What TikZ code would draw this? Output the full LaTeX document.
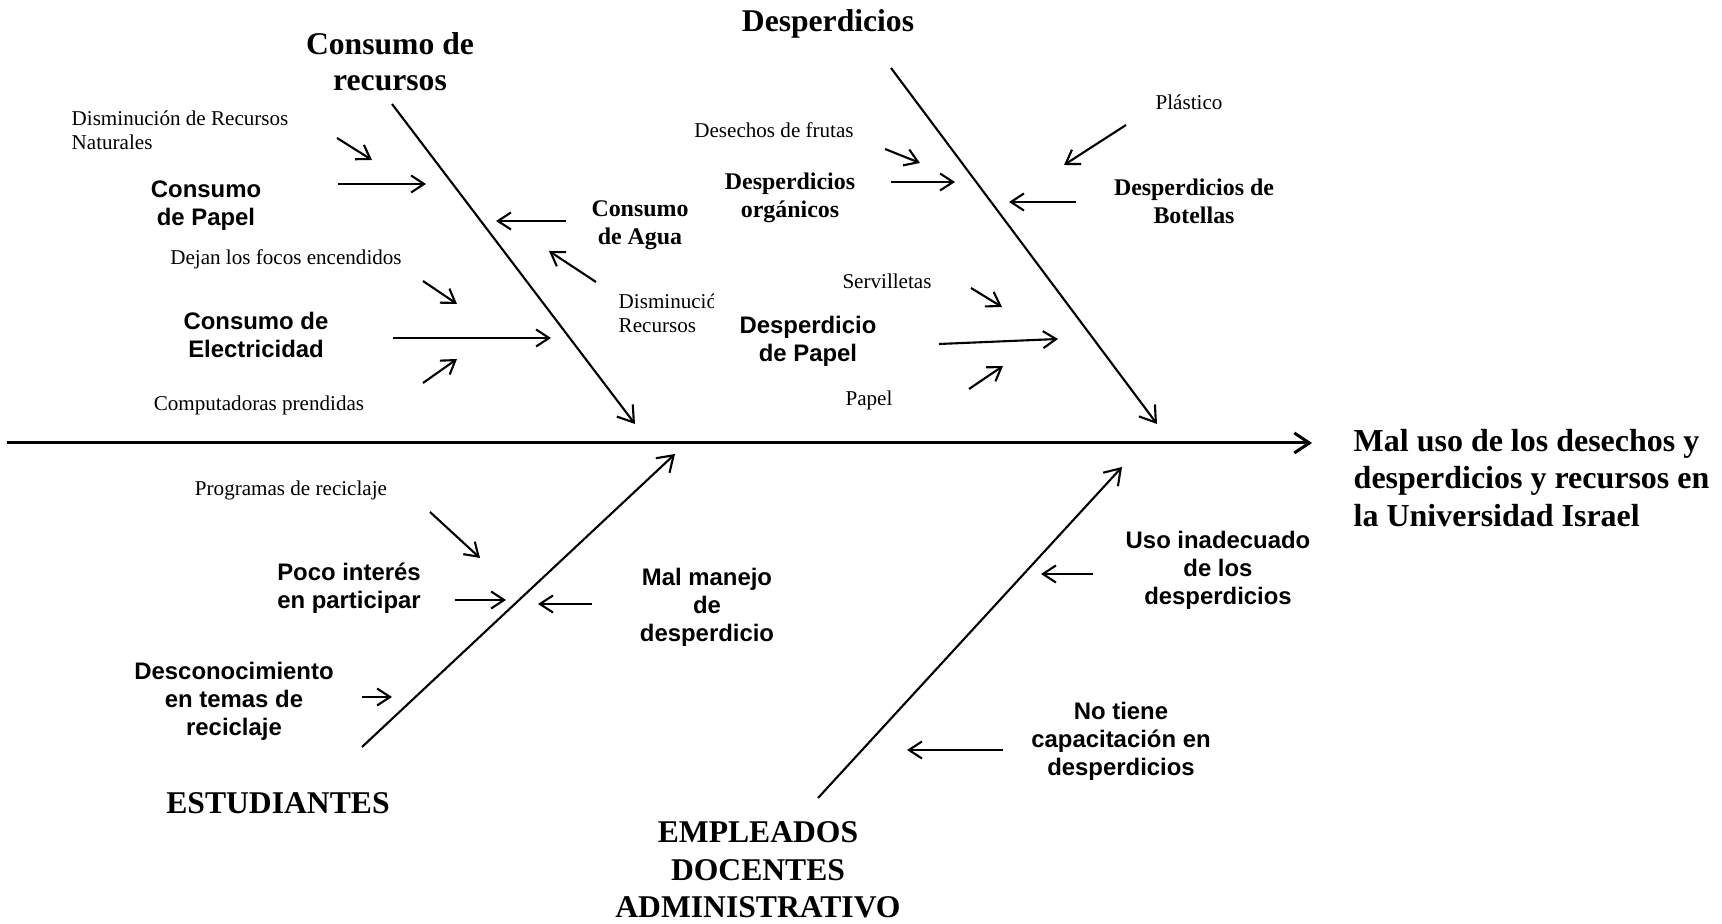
\documentclass[tikz,border=0pt]{standalone}
\usepackage{fontspec}
\setmainfont{Liberation Serif}
\newfontfamily\arialfont{Liberation Sans}
\usetikzlibrary{arrows.meta}

\tikzset{
  bighead/.style={inner sep=0pt, align=center, font=\bfseries\fontsize{9}{10.3}\selectfont},
  causeA/.style={inner sep=0pt, align=center, yshift=-0.3mm, font=\arialfont\bfseries\fontsize{6.8}{8}\selectfont},
  causeT/.style={inner sep=0pt, align=center, yshift=-0.3mm, font=\bfseries\fontsize{6.8}{8}\selectfont},
  note/.style={inner sep=0pt, align=center, yshift=-0.2mm, font=\fontsize{6}{6.8}\selectfont},
  bone/.style={line width=0.6pt, -{Straight Barb[length=1.5mm, width=2mm]}},
  twig/.style={line width=0.6pt, -{Straight Barb[length=1.3mm, width=1.7mm]}},
}

\begin{document}
\begin{tikzpicture}[x=0.1mm, y=-0.1mm]
  \useasboundingbox (0,0) rectangle (1722,924);

  % spine and effect
  \coordinate (tail) at (7,443);
  \coordinate (head) at (1312,443);
  \draw[bone, line width=0.85pt] (tail) -- (head);
  \node[bighead, anchor=west, align=left, font=\bfseries\fontsize{9.1}{10.7}\selectfont]
    (effect) at (1353,478) {Mal uso de los desechos y\\desperdicios y recursos en\\la Universidad Israel};

  % main bones
  \coordinate (r0) at (392,104);  \coordinate (r1) at (635,424);
  \coordinate (w0) at (891,68);   \coordinate (w1) at (1157,424);
  \coordinate (s0) at (362,747);  \coordinate (s1) at (675,454);
  \coordinate (e0) at (818,798);  \coordinate (e1) at (1122,467);
  \path[bone] (r0) edge (r1) (w0) edge (w1) (s0) edge (s1) (e0) edge (e1);

  \node[bighead] (recursos) at (390,62) {Consumo de\\recursos};
  \node[bighead] (desp) at (828,24) {Desperdicios};
  \node[bighead] (estud) at (278,803) {ESTUDIANTES};
  \node[bighead, font=\bfseries\fontsize{9}{10.6}\selectfont] (empl) at (758,870) {EMPLEADOS\\DOCENTES\\ADMINISTRATIVO};

  % consumo de recursos
  \node[note, anchor=west, align=left] (natur) at (71,128) {Disminución de Recursos\\Naturales};
  \node[causeA] (cpapel) at (206,203) {Consumo\\de Papel};
  \node[note] (focos) at (286,257) {Dejan los focos encendidos};
  \node[causeA] (celec) at (256,332) {Consumo de\\Electricidad};
  \node[note] (compu) at (259,403) {Computadoras prendidas};
  \node[causeT] (cagua) at (640,222) {Consumo\\de Agua};
  \begin{scope}
    \clip (600,280) rectangle (713,345);
    \node[note, anchor=west, align=left] (dismin) at (618,311) {Disminución de\\Recursos};
  \end{scope}

  \coordinate (natS) at (337,138);   \coordinate (natE) at (372,160);
  \coordinate (papS) at (338,184);   \coordinate (papE) at (426,184);
  \coordinate (focS) at (423,281);   \coordinate (focE) at (457,304);
  \coordinate (eleS) at (393,338);   \coordinate (eleE) at (551,338);
  \coordinate (comS) at (423,383);   \coordinate (comE) at (457,359);
  \coordinate (aguS) at (566,221);   \coordinate (aguE) at (496,221);
  \coordinate (disS) at (596,282);   \coordinate (disE) at (549,251);
  \path[twig]
  (natS) edge (natE)
  (papS) edge (papE)
  (focS) edge (focE)
  (eleS) edge (eleE)
  (comS) edge (comE)
  (aguS) edge (aguE)
  (disS) edge (disE);

  % desperdicios
  \node[note] (frutas) at (774,128) {Desechos de frutas};
  \node[causeT] (dorg) at (790,195) {Desperdicios\\orgánicos};
  \node[note] (servi) at (887,279) {Servilletas};
  \node[causeA] (dpapel) at (808,338) {Desperdicio\\de Papel};
  \node[note] (papel) at (869,398) {Papel};
  \node[note] (plast) at (1189,100) {Plástico};
  \node[causeT] (dbot) at (1194,198) {Desperdicios de\\Botellas};

  \coordinate (fruS) at (885,149);   \coordinate (fruE) at (920,163);
  \coordinate (orgS) at (891,182);   \coordinate (orgE) at (955,182);
  \coordinate (serS) at (971,288);   \coordinate (serE) at (1002,307);
  \coordinate (dpaS) at (939,344);   \coordinate (dpaE) at (1058,339);
  \coordinate (ppS)  at (969,389);   \coordinate (ppE)  at (1003,366);
  \coordinate (plaS) at (1126,125);  \coordinate (plaE) at (1064,165);
  \coordinate (botS) at (1076,202);  \coordinate (botE) at (1009,202);
  \path[twig]
  (fruS) edge (fruE)
  (orgS) edge (orgE)
  (serS) edge (serE)
  (dpaS) edge (dpaE)
  (ppS) edge (ppE)
  (plaS) edge (plaE)
  (botS) edge (botE);

  % estudiantes
  \node[note] (progr) at (291,488) {Programas de reciclaje};
  \node[causeA] (poco) at (349,585) {Poco interés\\en participar};
  \node[causeA] (desco) at (234,698) {Desconocimiento\\en temas de\\reciclaje};
  \node[causeA] (malm) at (707,604) {Mal manejo\\de\\desperdicio};

  \coordinate (proS) at (430,512);   \coordinate (proE) at (480,558);
  \coordinate (pocS) at (455,600);   \coordinate (pocE) at (506,600);
  \coordinate (desS) at (362,697);   \coordinate (desE) at (392,697);
  \coordinate (malS) at (592,604);   \coordinate (malE) at (538,604);
  \path[twig]
  (proS) edge (proE)
  (pocS) edge (pocE)
  (desS) edge (desE)
  (malS) edge (malE);

  % empleados
  \node[causeA] (usoin) at (1218,567) {Uso inadecuado\\de los\\desperdicios};
  \node[causeA] (notiene) at (1121,738) {No tiene\\capacitación en\\desperdicios};

  \coordinate (usoS) at (1093,574);  \coordinate (usoE) at (1041,574);
  \coordinate (capS) at (1003,750);  \coordinate (capE) at (907,750);
  \path[twig]
  (usoS) edge (usoE)
  (capS) edge (capE);
\end{tikzpicture}
\end{document}
